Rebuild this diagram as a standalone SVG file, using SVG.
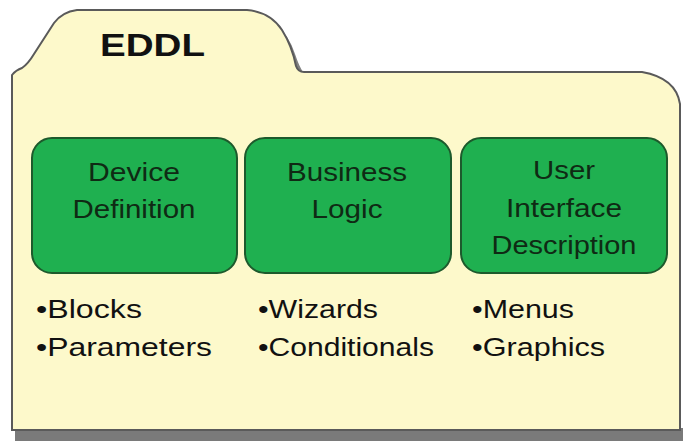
<svg xmlns="http://www.w3.org/2000/svg" width="683" height="441" viewBox="0 0 683 441">
<style>
.box{fill:#1fb050;stroke:#1d5a2c;stroke-width:2}
.bt{font-family:"Liberation Sans",Arial,sans-serif;font-size:25px;fill:#0f2a14;text-anchor:middle}
.li{font-family:"Liberation Sans",Arial,sans-serif;font-size:25px;fill:#111}
</style>
<rect x="0" y="0" width="683" height="441" fill="#ffffff"/>
<rect x="15" y="428" width="668" height="13" fill="#7a7a7a"/>
<path d="M300,70 Q296,64 292,52 Q286,33 272,22 Q262,12 247,10 L77,10 Q62,12 54,24 L34,56 Q28,66 20,70 L12,74 Z" fill="#808080" transform="translate(3,2)"/>
<g id="folder">
<path d="M12,430 L12,75 Q16,70 22,68 Q28,64 34,54 L54,23 Q62,12 77,10 L247,10 Q270,12 282,30 Q292,46 296,66 Q298,72 304,72 L642,72 Q676,78 680,104 L680,430 Z" fill="#fdf9cb" stroke="#5a5a5a" stroke-width="2"/>
<text x="100" y="56" font-family="'Liberation Sans',Arial,sans-serif" font-weight="bold" font-size="32" textLength="105" lengthAdjust="spacingAndGlyphs" fill="#111">EDDL</text>
</g>
<g id="device-definition">
<rect class="box" x="32" y="138" width="205" height="135" rx="20"/>
<text class="bt" x="134" y="181" textLength="92" lengthAdjust="spacingAndGlyphs">Device</text>
<text class="bt" x="134" y="218" textLength="123" lengthAdjust="spacingAndGlyphs">Definition</text>
</g>
<g id="business-logic">
<rect class="box" x="245" y="138" width="206" height="135" rx="20"/>
<text class="bt" x="347" y="181" textLength="120" lengthAdjust="spacingAndGlyphs">Business</text>
<text class="bt" x="347" y="218" textLength="71" lengthAdjust="spacingAndGlyphs">Logic</text>
</g>
<g id="ui-description">
<rect class="box" x="461" y="138" width="206" height="135" rx="20"/>
<text class="bt" x="564" y="179" textLength="62" lengthAdjust="spacingAndGlyphs">User</text>
<text class="bt" x="564" y="217" textLength="116" lengthAdjust="spacingAndGlyphs">Interface</text>
<text class="bt" x="564" y="254" textLength="145" lengthAdjust="spacingAndGlyphs">Description</text>
</g>
<g id="lists">
<text class="li" x="36" y="318" textLength="106" lengthAdjust="spacingAndGlyphs">•Blocks</text>
<text class="li" x="36" y="356" textLength="176" lengthAdjust="spacingAndGlyphs">•Parameters</text>
<text class="li" x="258" y="318" textLength="120" lengthAdjust="spacingAndGlyphs">•Wizards</text>
<text class="li" x="258" y="356" textLength="176" lengthAdjust="spacingAndGlyphs">•Conditionals</text>
<text class="li" x="472" y="318" textLength="102" lengthAdjust="spacingAndGlyphs">•Menus</text>
<text class="li" x="472" y="356" textLength="133" lengthAdjust="spacingAndGlyphs">•Graphics</text>
</g>
<g id="connectors"/>
</svg>
